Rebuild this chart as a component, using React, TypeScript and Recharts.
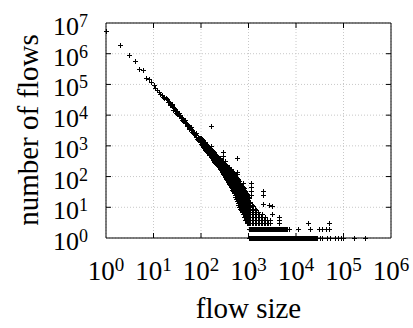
import { ScatterChart, Scatter, XAxis, YAxis, CartesianGrid, ReferenceArea } from 'recharts';

const PLOT_LEFT = 106;
const PLOT_RIGHT = 391;
const PLOT_TOP = 23;
const PLOT_BOTTOM = 238;
const FONT = '"Liberation Serif", "Times New Roman", serif';

const xTicks = [1, 10, 100, 1000, 10000, 100000, 1000000];
const yTicks = [1, 10, 100, 1000, 10000, 100000, 1000000, 10000000];

// flow sizes 1..10, one point each
const headSizes = [1, 2, 3, 4, 5, 6, 7, 8, 9, 10];
const headCounts = [5500000, 1900000, 930000, 590000, 320000, 300000, 160000, 150000, 120000, 95000];

// thin part of the band, 11..100
const midSizes = [11, 12, 13, 14, 15, 16, 17, 18, 19, 20, 22, 24, 26, 28, 30, 33, 36, 40, 44, 48, 52, 56, 60, 65, 70, 75, 80, 86, 92];
const midCounts = [79000, 67000, 58000, 50000, 44000, 39000, 35000, 36000, 33000, 27000, 24500, 20900, 17800, 15500, 13700, 11400, 9800, 8100, 6800, 5700, 4900, 4300, 3800, 3240, 2830, 2500, 2200, 1930, 1700];
const midExtraSizes = [21, 23, 25, 27, 29, 31, 32, 35, 38, 42, 46, 47, 50, 55, 58, 62, 63, 68, 72, 78, 84, 89, 95, 97];
const midExtraCounts = [27000, 22500, 23000, 16900, 14700, 11000, 12300, 12000, 8900, 6300, 6200, 7000, 5300, 3800, 4000, 3550, 4100, 2550, 2700, 2700, 1700, 1820, 1850, 1550];
const midLowSizes = [22, 26, 30, 34, 39, 45, 51, 57, 64, 71, 79, 87, 94];
const midLowCounts = [21000, 15000, 11700, 9300, 7200, 5500, 4300, 3500, 2850, 2350, 1900, 1600, 1380];

// wide part of the band, 100..1000 (several counts per size)
const bandSizes = [100, 104, 108, 112, 116, 120, 124, 129, 134, 139, 144, 150, 155, 160, 166, 172, 179, 185, 192, 199, 206, 214, 222, 230, 238, 247, 256, 265, 275, 285, 296, 307, 318, 330, 342, 355, 368, 381, 395, 410, 425, 441, 457, 474, 491, 509, 528, 547, 567, 588, 610, 633, 656, 680, 705, 731, 758, 786, 815, 845, 876, 909, 942, 976, 1012];
const bandCounts = [
  [1150, 1450, 1800],
  [1080, 1300, 1650],
  [1000, 1260, 1580],
  [930, 1180, 1480],
  [870, 1100, 1380],
  [810, 1030, 1310],
  [760, 960, 1250],
  [700, 890, 1150],
  [650, 830, 1070],
  [600, 780, 1010],
  [560, 730, 950],
  [520, 690, 900],
  [490, 640, 850],
  [450, 600, 800],
  [420, 560, 750],
  [390, 520, 700],
  [355, 480, 660],
  [330, 440, 610],
  [300, 410, 570],
  [285, 390, 540],
  [270, 370, 520],
  [250, 340, 485],
  [230, 320, 455],
  [215, 300, 370, 430],
  [200, 280, 340, 410],
  [185, 260, 320, 390],
  [170, 240, 300, 370],
  [158, 220, 280, 350],
  [145, 200, 260, 330],
  [132, 182, 240, 310],
  [120, 165, 220, 290],
  [110, 152, 205, 270],
  [100, 140, 190, 250],
  [92, 128, 175, 240],
  [83, 115, 160, 228],
  [75, 105, 148, 195, 218],
  [68, 95, 135, 170, 208],
  [63, 88, 122, 160, 200],
  [58, 80, 110, 150, 195],
  [52, 72, 100, 138, 182],
  [46, 65, 92, 125, 170],
  [41, 58, 83, 112, 157],
  [36, 52, 74, 100, 144],
  [33, 47, 67, 91, 120, 137],
  [30, 42, 60, 82, 108, 130],
  [26, 37, 52, 72, 96, 120],
  [22, 32, 45, 62, 85, 110],
  [19, 27, 39, 54, 74, 100],
  [16, 23, 33, 46, 64, 93],
  [14, 20, 29, 40, 57, 84],
  [12, 17, 25, 35, 50, 77],
  [10, 14, 21, 30, 42, 56, 70],
  [9, 12, 17, 24, 34, 48, 64],
  [8, 10, 13, 19, 27, 38, 52],
  [8, 11, 15, 21, 30, 42, 55],
  [7, 9, 13, 18, 25, 36, 50],
  [6, 8, 11, 15, 21, 30, 45],
  [5, 6, 10, 14, 19, 27, 41],
  [5, 7, 9, 12, 17, 25, 37],
  [4, 5, 7, 9, 13, 18, 26, 33],
  [4, 6, 8, 11, 15, 21, 30],
  [3, 4, 6, 8, 11, 16, 22, 28],
  [4, 5, 7, 9, 13, 18, 24],
  [3, 4, 6, 8, 12, 16, 22],
  [3, 4, 5, 7, 10, 14, 20],
];

// tail just past 1000
const tailSizes = [1090, 1170, 1260, 1360, 1460, 1570, 1690, 1820, 1960, 2100, 2270, 2440, 2620, 2820];
const tailCounts = [
  [3, 4, 5, 6, 8, 11, 15],
  [3, 4, 5, 7, 9, 12],
  [3, 4, 5, 6, 8, 11],
  [3, 4, 5, 7, 9],
  [3, 4, 6, 8],
  [3, 4, 5, 7],
  [3, 4, 6],
  [3, 4, 5],
  [3, 5, 6],
  [3, 4],
  [3, 4, 5],
  [3, 4],
  [3],
  [3, 4],
];

// stray points above the band
const outSizes = [160, 162, 285, 288, 318, 565, 560, 560, 750, 1130, 1130, 1130, 1130, 2000, 2000, 2000, 2650, 3050, 3050, 4400, 4400, 4400, 18300, 49500];
const outCounts = [4600, 1000, 640, 460, 310, 400, 145, 125, 62, 60, 46, 34, 25, 33, 25, 13, 12, 11, 6, 5, 4, 3, 3, 3];

// flows seen twice / once
const row2Sizes = [1000, 1050, 1100, 1150, 1210, 1270, 1330, 1390, 1460, 1530, 1600, 1680, 1760, 1850, 1940, 2030, 2130, 2230, 2340, 2460, 2580, 2700, 2830, 2970, 3110, 3260, 3420, 3590, 3760, 3950, 4140, 4340, 4550, 4770, 5000, 5250, 5500, 5770, 6050, 6340, 6600, 7100, 11200, 19600, 31000, 34500, 42000, 49500];
const row1Sizes = [1020, 1070, 1120, 1170, 1230, 1290, 1350, 1420, 1490, 1560, 1640, 1720, 1800, 1890, 1980, 2080, 2180, 2290, 2400, 2520, 2640, 2770, 2910, 3050, 3200, 3350, 3520, 3690, 3870, 4060, 4260, 4460, 4680, 4910, 5150, 5400, 5670, 5940, 6230, 6530, 6850, 7190, 7540, 7900, 8290, 8700, 9130, 9570, 10000, 10500, 11000, 11600, 12100, 12700, 13300, 14000, 14700, 15400, 16100, 16900, 17700, 18600, 19500, 20500, 21500, 22500, 23600, 24800, 26000, 27300, 32000, 35500, 45000, 52000, 66000, 76000, 89000, 98000, 166000, 284000];

const points: { x: number; y: number }[] = [];
headSizes.forEach((s, i) => points.push({ x: s, y: headCounts[i] }));
midSizes.forEach((s, i) => points.push({ x: s, y: midCounts[i] }));
midExtraSizes.forEach((s, i) => points.push({ x: s, y: midExtraCounts[i] }));
midLowSizes.forEach((s, i) => points.push({ x: s, y: midLowCounts[i] }));
bandSizes.forEach((s, i) => bandCounts[i].forEach((c) => points.push({ x: s, y: c })));
tailSizes.forEach((s, i) => tailCounts[i].forEach((c) => points.push({ x: s, y: c })));
outSizes.forEach((s, i) => points.push({ x: s, y: outCounts[i] }));
row2Sizes.forEach((s) => points.push({ x: s, y: 2 }));
row1Sizes.forEach((s) => points.push({ x: s, y: 1 }));

function PlusMark(props: any) {
  const { cx, cy } = props;
  if (cx == null || cy == null) return null;
  const px = Math.round(cx) + 0.5;
  const py = Math.round(cy) + 0.5;
  return (
    <path
      d={`M${px - 2.5},${py}h5M${px},${py - 2.5}v5`}
      stroke="#000"
      strokeWidth={1}
      fill="none"
      shapeRendering="crispEdges"
    />
  );
}

function XTick(props: any) {
  const { x, y, payload } = props;
  const exp = Math.round(Math.log10(payload.value));
  const inner = x > PLOT_LEFT + 1 && x < PLOT_RIGHT - 1;
  return (
    <g>
      {inner && <line x1={x} x2={x} y1={y} y2={y - 5} stroke="#000" />}
      {inner && <line x1={x} x2={x} y1={PLOT_TOP} y2={PLOT_TOP + 5} stroke="#000" />}
      <text x={x} y={y + 42} textAnchor="middle" fontSize={27} fontFamily={FONT} fill="#000">
        10<tspan dy={-9} fontSize={19}>{exp}</tspan>
      </text>
    </g>
  );
}

function YTick(props: any) {
  const { x, y, payload } = props;
  const exp = Math.round(Math.log10(payload.value));
  const inner = y > PLOT_TOP + 1 && y < PLOT_BOTTOM - 1;
  return (
    <g>
      {inner && <line x1={x} x2={x + 5} y1={y} y2={y} stroke="#000" />}
      {inner && <line x1={PLOT_RIGHT - 5} x2={PLOT_RIGHT} y1={y} y2={y} stroke="#000" />}
      <text x={x - 18} y={y + 12} textAnchor="end" fontSize={26} fontFamily={FONT} fill="#000">
        10<tspan dy={-8} fontSize={18}>{exp}</tspan>
      </text>
    </g>
  );
}

export default function App() {
  return (
    <div style={{ position: 'absolute', left: 0, top: 0, width: 413, height: 328, background: '#fff' }}>
      <ScatterChart width={413} height={328} margin={{ top: PLOT_TOP, right: 413 - PLOT_RIGHT, bottom: 0, left: 0 }}>
        <CartesianGrid stroke="#c8c8c8" strokeDasharray="1 2" />
        <XAxis
          dataKey="x"
          type="number"
          scale="log"
          domain={[1, 1000000]}
          ticks={xTicks}
          interval={0}
          height={90}
          axisLine={false}
          tickLine={false}
          tickSize={0}
          tickMargin={0}
          tick={<XTick />}
          label={() => (
            <text x={248.5} y={318} textAnchor="middle" fontSize={29} fontFamily={FONT} fill="#000">
              flow size
            </text>
          )}
        />
        <YAxis
          dataKey="y"
          type="number"
          scale="log"
          domain={[1, 10000000]}
          ticks={yTicks}
          interval={0}
          width={PLOT_LEFT}
          axisLine={false}
          tickLine={false}
          tickSize={0}
          tickMargin={0}
          tick={<YTick />}
          label={() => (
            <text
              x={38}
              y={130}
              transform="rotate(-90, 38, 130)"
              textAnchor="middle"
              fontSize={29}
              fontFamily={FONT}
              fill="#000"
            >
              number of flows
            </text>
          )}
        />
        <ReferenceArea x1={1} x2={1000000} y1={1} y2={10000000} fill="none" stroke="#000" strokeWidth={1} ifOverflow="visible" />
        <Scatter data={points} shape={<PlusMark />} isAnimationActive={false} />
      </ScatterChart>
    </div>
  );
}
